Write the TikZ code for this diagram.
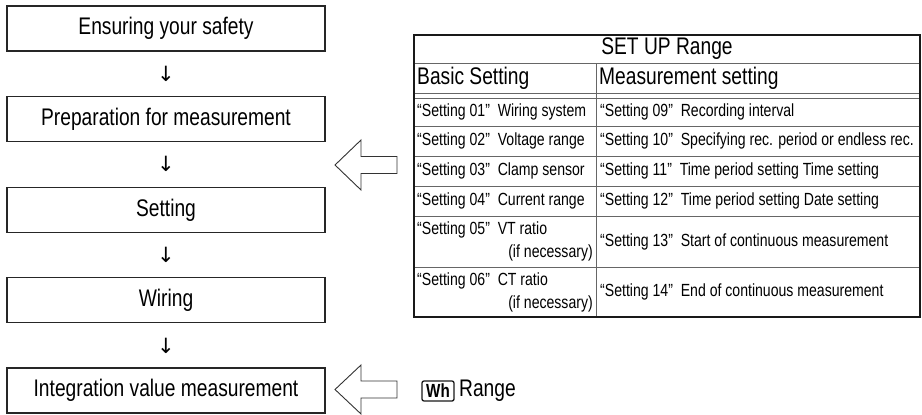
\documentclass[tikz,border=0pt]{standalone}
\usepackage{fontspec}
\setmainfont{Liberation Sans}[FakeStretch=0.8]
\newfontfamily\arrowfont{DejaVu Sans}
\begin{document}
\begin{tikzpicture}[x=1pt,y=-1pt,
  flowbox/.style={draw=black!85, line width=1.6pt, minimum width=318pt, minimum height=45pt, inner sep=0pt, font=\fontsize{24}{26}\selectfont},
  downglyph/.style={font=\arrowfont\fontsize{21}{21}\selectfont, inner sep=0pt},
  hollow/.style={draw=black!80, line width=0.9pt, fill=white, line join=miter},
  tabline/.style={draw=black!60, line width=0.8pt},
  tabborder/.style={draw=black!90, line width=1.6pt},
  headtext/.style={font=\fontsize{24}{26}\selectfont, inner sep=0pt},
  celltext/.style={font=\fontsize{17.6}{20}\selectfont, inner sep=0pt, anchor=west},
  wh/.style={draw=black!90, line width=1.3pt, rounded corners=2pt, minimum width=32pt, minimum height=20pt, inner sep=0pt, font=\bfseries\fontsize{19}{19}\selectfont}
]
\useasboundingbox (0,0) rectangle (922,415);

% flow boxes
\node[flowbox] (b1) at (166,28.5) {Ensuring your safety};
\node[flowbox] (b2) at (166,119) {Preparation for measurement};
\node[flowbox] (b3) at (166,210) {Setting};
\node[flowbox] (b4) at (166,300) {Wiring};
\node[flowbox] (b5) at (166,390.5) {Integration value measurement};

\node[downglyph] (d1) at (166,73.5) {↓};
\node[downglyph] (d2) at (166,164) {↓};
\node[downglyph] (d3) at (166,255) {↓};
\node[downglyph] (d4) at (166,345.5) {↓};

% hollow arrows
\draw[hollow] (335,165) -- (361,140) -- (361,156.5) -- (397,156.5) -- (397,173.5) -- (361,173.5) -- (361,190) -- cycle;
\draw[hollow] (335,389.5) -- (361,365) -- (361,381) -- (397,381) -- (397,398) -- (361,398) -- (361,414) -- cycle;

% table
\foreach \yy in {63,93,98,126,156,186,216,267} \draw[tabline] (414,\yy) -- (920,\yy);
\draw[tabline] (596,63) -- (596,317);
\draw[tabborder] (414,35) rectangle (920,317);

\node[headtext] (title) at (667,49) {SET UP Range};
\node[headtext, anchor=west] (hb) at (417,78.5) {Basic Setting};
\node[headtext, anchor=west] (hm) at (599,78.5) {Measurement setting};

\node[celltext] (s01) at (417,112) {“Setting 01”\ \ Wiring system};
\node[celltext] (s02) at (417,141) {“Setting 02”\ \ Voltage range};
\node[celltext] (s03) at (417,171) {“Setting 03”\ \ Clamp sensor};
\node[celltext] (s04) at (417,201) {“Setting 04”\ \ Current range};
\node[celltext] (s05) at (417,230) {“Setting 05”\ \ VT ratio};
\node[celltext, anchor=east] (s05b) at (593,253) {(if necessary)};
\node[celltext] (s06) at (417,281) {“Setting 06”\ \ CT ratio};
\node[celltext, anchor=east] (s06b) at (593,304) {(if necessary)};

\node[celltext] (s09) at (600,112) {“Setting 09”\ \ Recording interval};
\node[celltext] (s10) at (600,141) {“Setting 10”\ \ Specifying rec. period or endless rec.};
\node[celltext] (s11) at (600,171) {“Setting 11”\ \ Time period setting Time setting};
\node[celltext] (s12) at (600,201) {“Setting 12”\ \ Time period setting Date setting};
\node[celltext] (s13) at (600,241.5) {“Setting 13”\ \ Start of continuous measurement};
\node[celltext] (s14) at (600,292) {“Setting 14”\ \ End of continuous measurement};

% Wh range
\node[wh] (whkey) at (438,391) {Wh};
\node[headtext, anchor=west] (range) at (459,391) {Range};
\end{tikzpicture}
\end{document}
